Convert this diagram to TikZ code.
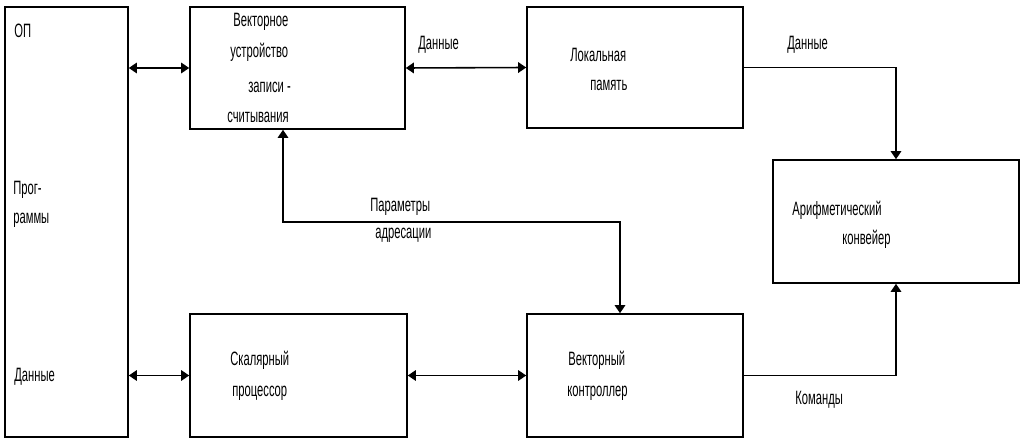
\documentclass[tikz,border=0pt]{standalone}
\usepackage{fontspec}
\setmainfont[FakeStretch=0.58]{Liberation Sans}
\usetikzlibrary{arrows.meta, positioning, calc}
\definecolor{lineColor}{RGB}{0,0,0}

\begin{document}
\begin{tikzpicture}[
    x=0.02cm, y=-0.02cm,
    every node/.style={font=\fontsize{11pt}{13pt}\selectfont},
    box/.style={
        draw=lineColor, line width=0.9pt, inner sep=0pt
    },
    txt/.style={anchor=west, inner sep=0pt},
    link/.style={-{Triangle[length=4.6pt, width=6pt]}, line width=0.9pt, color=lineColor},
    dbl-link/.style={{Triangle[length=4.6pt, width=6pt]}-{Triangle[length=4.6pt, width=6pt]}, line width=0.9pt, color=lineColor}
]
    % Canvas: 1 unit = 1 px of the 1024 x 442 frame.
    \useasboundingbox (0,0) rectangle (1024,442);

    % Boxes.
    \node[box, minimum width=123*0.02cm, minimum height=430*0.02cm] (op) at (66.5,222) {};
    \node[box, minimum width=215*0.02cm, minimum height=122*0.02cm] (vu) at (297.5,68) {};
    \node[box, minimum width=216*0.02cm, minimum height=121*0.02cm] (lm) at (635,67.5) {};
    \node[box, minimum width=246*0.02cm, minimum height=123*0.02cm] (ap) at (896,221.5) {};
    \node[box, minimum width=217*0.02cm, minimum height=123*0.02cm] (sp) at (298.5,375.5) {};
    \node[box, minimum width=216*0.02cm, minimum height=123*0.02cm] (vc) at (635,375.5) {};

    % Box texts.
    \node[txt] (opT) at (14,31) {ОП};
    \node[txt] (opProg1) at (13,190) {Прог-};
    \node[txt] (opProg2) at (13,220) {раммы};
    \node[txt] (opData) at (14,377) {Данные};

    \node[txt] (vuT1) at (233,22) {Векторное};
    \node[txt] (vuT2) at (230,52) {устройство};
    \node[txt] (vuT3) at (248,87) {записи -};
    \node[txt] (vuT4) at (227,117) {считывания};

    \node[txt] (lmT1) at (570,55) {Локальная};
    \node[txt] (lmT2) at (590,85) {память};

    \node[txt] (apT1) at (792,210) {Арифметический};
    \node[txt] (apT2) at (842,239) {конвейер};

    \node[txt] (spT1) at (230,360) {Скалярный};
    \node[txt] (spT2) at (232,393) {процессор};

    \node[txt] (vcT1) at (568,360) {Векторный};
    \node[txt] (vcT2) at (567,393) {контроллер};

    % Connector labels.
    \node[txt] (dataA) at (418,45) {Данные};
    \node[txt] (dataB) at (787,45) {Данные};
    \node[txt] (addr1) at (370,207) {Параметры};
    \node[txt] (addr2) at (375,235) {адресации};
    \node[txt] (cmd) at (795,400) {Команды};

    % Connectors.
    \coordinate (bendA) at (283,222);
    \coordinate (bendB) at (620,222);
    \draw[dbl-link] (op.east |- vu.west) -- (vu.west);
    \draw[dbl-link] (vu.east) -- (lm.west);
    \draw[link] (lm.east) -| (ap.north);
    \draw[dbl-link] (op.east |- sp.west) -- (sp.west);
    \draw[dbl-link] (sp.east) -- (vc.west);
    \draw[link] (vc.east) -| (ap.south);
    \draw[dbl-link] (vu.south -| bendA) -- (bendA) -- (bendB) -- (vc.north -| bendB);
\end{tikzpicture}
\end{document}
